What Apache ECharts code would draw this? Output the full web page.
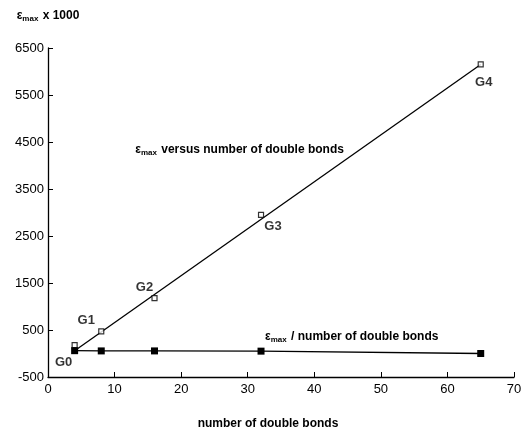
<!DOCTYPE html>
<html><head><meta charset="utf-8">
<script src="https://cdn.jsdelivr.net/npm/echarts@6/dist/echarts.min.js"></script>
<style>html,body{margin:0;padding:0;background:#fff}#c{width:529px;height:432px}</style>
</head><body><div id="c"></div>
<script>
// Data
const generations = ['G0', 'G1', 'G2', 'G3', 'G4'];
const doubleBonds = [4, 8, 16, 32, 65];
const emaxValues = [180, 470, 1180, 2950, 6150];
const emaxPerBond = [60, 55, 55, 50, 0];
const fitX = [4, 65];
const fitY = [60, 6150];
const yTicks = [-500, 500, 1500, 2500, 3500, 4500, 5500, 6500];
const labelOffsets = [[-11, 17], [-15, -11], [-10, -11], [12, 12], [3, 18]];

const font = 'Liberation Sans, Arial, sans-serif';
const rich = {
  e: { fontSize: 12, fontFamily: font, color: '#000', fontWeight: 'bold' },
  s: { fontSize: 8, fontFamily: font, color: '#000', fontWeight: 'bold', padding: [6, 1, 0, 0] },
  t: { fontSize: 12, fontFamily: font, color: '#000', fontWeight: 'bold' }
};

const chart = echarts.init(document.getElementById('c'));
chart.setOption({
  animation: false,
  backgroundColor: '#fff',
  grid: { left: 48, right: 15, top: 48, bottom: 55, containLabel: false, outerBoundsMode: 'none' },
  xAxis: {
    type: 'value', min: 0, max: 70, interval: 10,
    name: 'number of double bonds', nameLocation: 'middle', nameGap: 41,
    nameTextStyle: { fontFamily: font, fontSize: 12, color: '#000', fontWeight: 'bold', padding: [0, 26, 0, 0] },
    axisLine: { onZero: false, lineStyle: { color: '#000', width: 1.3 } },
    axisTick: { inside: true, length: 5, lineStyle: { color: '#000' } },
    axisLabel: { fontFamily: font, fontSize: 13, color: '#000', margin: 6 },
    splitLine: { show: false }
  },
  yAxis: {
    type: 'value', min: -500, max: 6500, interval: 1000,
    name: '{e|ε}{s|max}{t| x 1000}', nameLocation: 'end', nameGap: 25,
    nameTextStyle: { rich: rich, align: 'center' },
    axisLine: { show: true, onZero: false, lineStyle: { color: '#000', width: 1.3 } },
    axisTick: { show: true, inside: true, length: 5, lineStyle: { color: '#000' } },
    axisLabel: { fontFamily: font, fontSize: 13, color: '#000', margin: 4,
      formatter: v => yTicks.includes(v) ? String(v) : '' },
    splitLine: { show: false }
  },
  series: [
    {
      type: 'line', data: fitX.map((x, i) => [x, fitY[i]]),
      symbol: 'none', lineStyle: { color: '#000', width: 1.3 }, z: 2,
      markPoint: {
        symbol: 'circle', symbolSize: 0,
        data: [{ coord: [13.1, 4330], label: { show: true, position: 'right', distance: 0,
          formatter: '{e|ε}{s|max}{t| versus number of double bonds}', rich: rich } }]
      }
    },
    {
      type: 'scatter', data: doubleBonds.map((x, i) => ({
        value: [x, emaxValues[i]],
        label: { show: true, formatter: generations[i], offset: labelOffsets[i], position: 'inside',
          fontFamily: font, fontSize: 13, color: '#000', fontWeight: 'bold', textBorderWidth: 0 }
      })),
      symbol: 'rect', symbolSize: 5,
      itemStyle: { color: '#fff', borderColor: '#000', borderWidth: 1.2 }, z: 3
    },
    {
      type: 'line', data: doubleBonds.map((x, i) => [x, emaxPerBond[i]]),
      symbol: 'rect', symbolSize: 7, showSymbol: true,
      itemStyle: { color: '#000' }, lineStyle: { color: '#000', width: 1.3 }, z: 3,
      markPoint: {
        symbol: 'circle', symbolSize: 0,
        data: [{ coord: [32.6, 350], label: { show: true, position: 'right', distance: 0,
          formatter: '{e|ε}{s|max}{t| / number of double bonds}', rich: rich } }]
      }
    }
  ]
});
</script></body></html>
